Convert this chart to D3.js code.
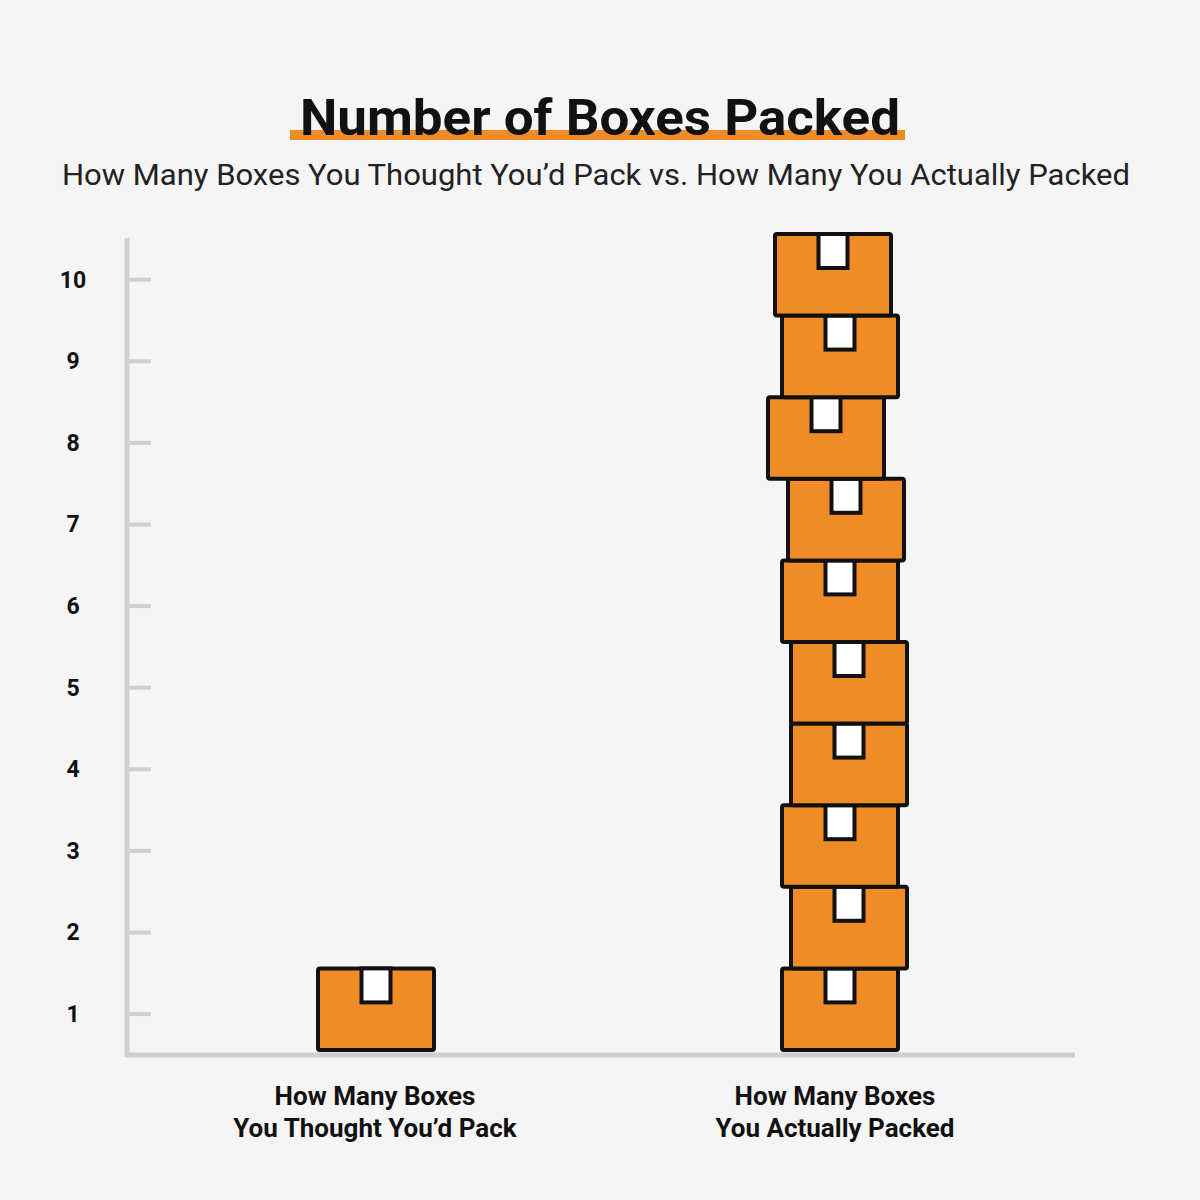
<!DOCTYPE html>
<html>
<head>
<meta charset="utf-8">
<script src="https://cdn.jsdelivr.net/npm/d3@7.9.0/dist/d3.min.js"></script>
<style>
  body { margin: 0; background: #f5f5f5; }
  svg { display: block; font-family: Roboto, sans-serif; }
</style>
</head>
<body>
<svg width="1200" height="1200"></svg>
<script>
const categories = ['How Many Boxes\nYou Thought You’d Pack', 'How Many Boxes\nYou Actually Packed'];
const counts = [1, 10];
const tickValues = [1, 2, 3, 4, 5, 6, 7, 8, 9, 10];
// small horizontal wobble of each stacked box (px)
const wobble = [[0], [0, 9, 0, 9, 9, 0, 6, -14, 0, -7]];

const svg = d3.select('svg');
const orange = '#f08c28';
const gray = '#d0d0d2';

svg.append('rect').attr('width', 1200).attr('height', 1200).attr('fill', '#f5f5f5');

// title
svg.append('rect').attr('x', 290).attr('y', 130).attr('width', 615).attr('height', 10).attr('fill', orange);
svg.append('text').attr('x', 600).attr('y', 135).attr('text-anchor', 'middle')
  .attr('font-size', 50).attr('font-weight', 700).attr('fill', '#111')
  .attr('textLength', 600).attr('lengthAdjust', 'spacingAndGlyphs')
  .text('Number of Boxes Packed');
svg.append('text').attr('x', 596).attr('y', 185).attr('text-anchor', 'middle')
  .attr('font-size', 30).attr('fill', '#222')
  .attr('textLength', 1068).attr('lengthAdjust', 'spacingAndGlyphs')
  .text('How Many Boxes You Thought You’d Pack vs. How Many You Actually Packed');

const x = d3.scalePoint().domain(categories).range([376, 840]);
const y = d3.scaleLinear().domain([0, 10]).range([1050, 234]);

// axes
svg.append('line').attr('x1', 127).attr('x2', 127).attr('y1', 238).attr('y2', 1057)
  .attr('stroke', gray).attr('stroke-width', 5);
svg.append('line').attr('x1', 125).attr('x2', 1075).attr('y1', 1055).attr('y2', 1055)
  .attr('stroke', gray).attr('stroke-width', 5);

const ticks = svg.append('g');
tickValues.forEach(v => {
  const ty = y(v - 0.56);
  ticks.append('line').attr('x1', 127).attr('x2', 151).attr('y1', ty).attr('y2', ty)
    .attr('stroke', gray).attr('stroke-width', 4);
  ticks.append('text').attr('x', 73).attr('y', ty + 8).attr('text-anchor', 'middle')
    .attr('font-size', 23).attr('font-weight', 700).attr('fill', '#111').text(v);
});

// boxes
const bw = 116, tw = 29, th = 34;
categories.forEach((c, ci) => {
  for (let i = 0; i < counts[ci]; i++) {
    const cx = x(c) + (wobble[ci][i] || 0);
    const top = y(i + 1), bot = y(i);
    const g = svg.append('g');
    g.append('rect').attr('x', cx - bw / 2).attr('y', top).attr('width', bw).attr('height', bot - top)
      .attr('rx', 2).attr('fill', orange).attr('stroke', '#111').attr('stroke-width', 4);
    g.append('rect').attr('x', cx - tw / 2).attr('y', top).attr('width', tw).attr('height', th)
      .attr('fill', '#fff').attr('stroke', '#111').attr('stroke-width', 4);
  }
  const t = svg.append('text').attr('text-anchor', 'middle').attr('font-size', 26)
    .attr('font-weight', 700).attr('fill', '#111');
  c.split('\n').forEach((line, li) => {
    t.append('tspan').attr('x', x(c) + (ci === 0 ? -1 : -5)).attr('y', 1105 + li * 32).text(line);
  });
});
</script>
</body>
</html>
